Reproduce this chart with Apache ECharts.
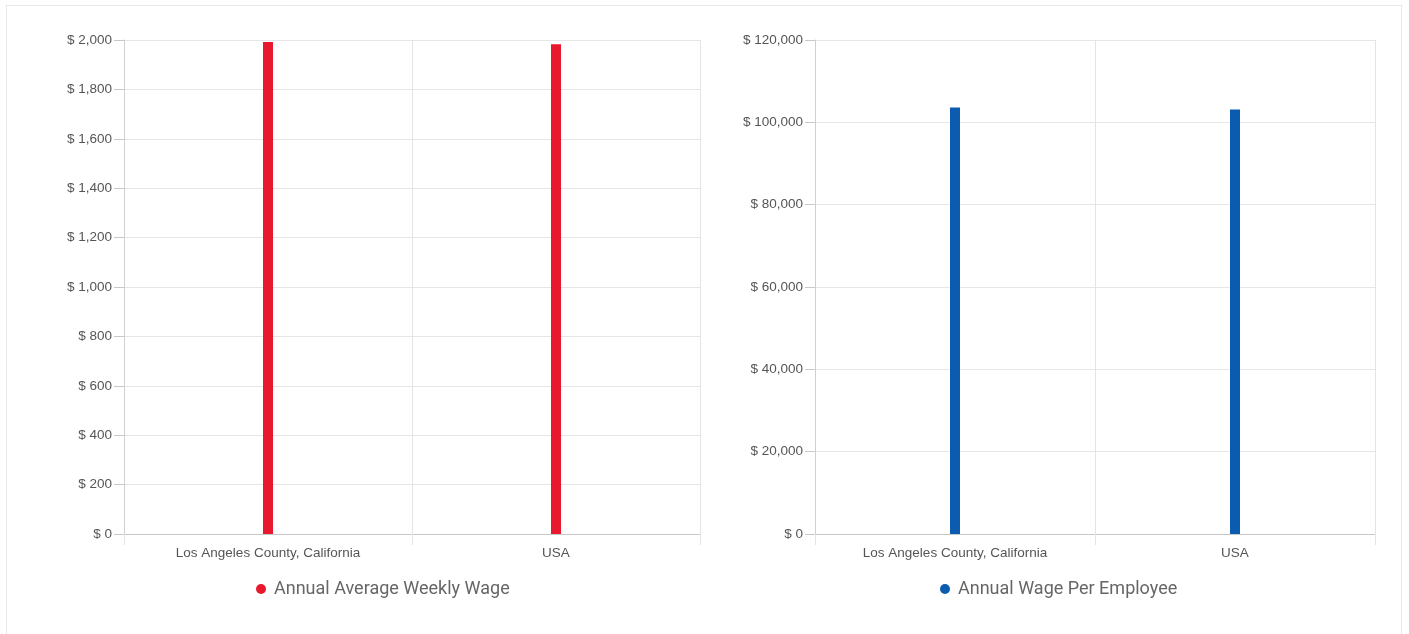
<!DOCTYPE html>
<html>
<head>
<meta charset="utf-8">
<script src="https://cdn.jsdelivr.net/npm/echarts@6/dist/echarts.min.js"></script>
<style>
  html, body { margin: 0; padding: 0; background: #fff; }
  #frame { position: absolute; left: 6px; top: 5px; width: 1396px; height: 640px; border: 1px solid #e8e8e8; box-sizing: border-box; }
  #chart { position: absolute; left: 0; top: 0; width: 1409px; height: 634px; }
</style>
</head>
<body>
<div id="frame"></div>
<div id="chart"></div>
<script>
// Wage comparison: Los Angeles County vs. USA
const regions = ['Los Angeles County, California', 'USA'];
const weeklyWage = [1992, 1983];
const annualWage = [103584, 103116];
const weeklyName = 'Annual Average Weekly Wage';
const annualName = 'Annual Wage Per Employee';

const RED = '#e8192c';
const BLUE = '#0b5bb0';
const AXIS_FONT = 'Liberation Sans, Arial, sans-serif';

function money(v) {
  return '$ ' + Number(v).toLocaleString('en-US');
}

function xAxisCfg(idx) {
  return {
    type: 'category',
    gridIndex: idx,
    data: regions,
    axisLine: { lineStyle: { color: '#c8c8c8', width: 1 } },
    axisTick: { show: true, length: 11, lineStyle: { color: '#e4e4e4' } },
    splitLine: { show: true, lineStyle: { color: '#e4e4e4' } },
    axisLabel: { color: '#555', fontSize: 13.5, fontFamily: AXIS_FONT, margin: 12 }
  };
}

function yAxisCfg(idx, max, interval) {
  return {
    type: 'value',
    gridIndex: idx,
    min: 0,
    max: max,
    interval: interval,
    axisLine: { show: true, lineStyle: { color: '#d0d0d0' } },
    axisTick: { show: true, length: 10, lineStyle: { color: '#c8c8c8' } },
    splitLine: { show: true, lineStyle: { color: '#e6e6e6' } },
    axisLabel: { color: '#555', fontSize: 13.5, fontFamily: AXIS_FONT, margin: 12, formatter: money }
  };
}

const chart = echarts.init(document.getElementById('chart'), null, { renderer: 'canvas' });
chart.setOption({
  animation: false,
  grid: [
    { left: 124, right: 709, top: 40, bottom: 100 },
    { left: 815, right: 34, top: 40, bottom: 100 }
  ],
  xAxis: [xAxisCfg(0), xAxisCfg(1)],
  yAxis: [yAxisCfg(0, 2000, 200), yAxisCfg(1, 120000, 20000)],
  legend: [
    {
      data: [weeklyName], left: 251, top: 575, icon: 'circle',
      itemWidth: 16, itemHeight: 10, itemGap: 5,
      textStyle: { color: '#666', fontSize: 18, fontFamily: 'Roboto, sans-serif' }
    },
    {
      data: [annualName], left: 935, top: 575, icon: 'circle',
      itemWidth: 16, itemHeight: 10, itemGap: 5,
      textStyle: { color: '#666', fontSize: 18, fontFamily: 'Roboto, sans-serif' }
    }
  ],
  series: [
    {
      name: weeklyName, type: 'bar', xAxisIndex: 0, yAxisIndex: 0,
      data: weeklyWage, barWidth: 10, itemStyle: { color: RED }
    },
    {
      name: annualName, type: 'bar', xAxisIndex: 1, yAxisIndex: 1,
      data: annualWage, barWidth: 10, itemStyle: { color: BLUE }
    }
  ]
});
</script>
</body>
</html>
